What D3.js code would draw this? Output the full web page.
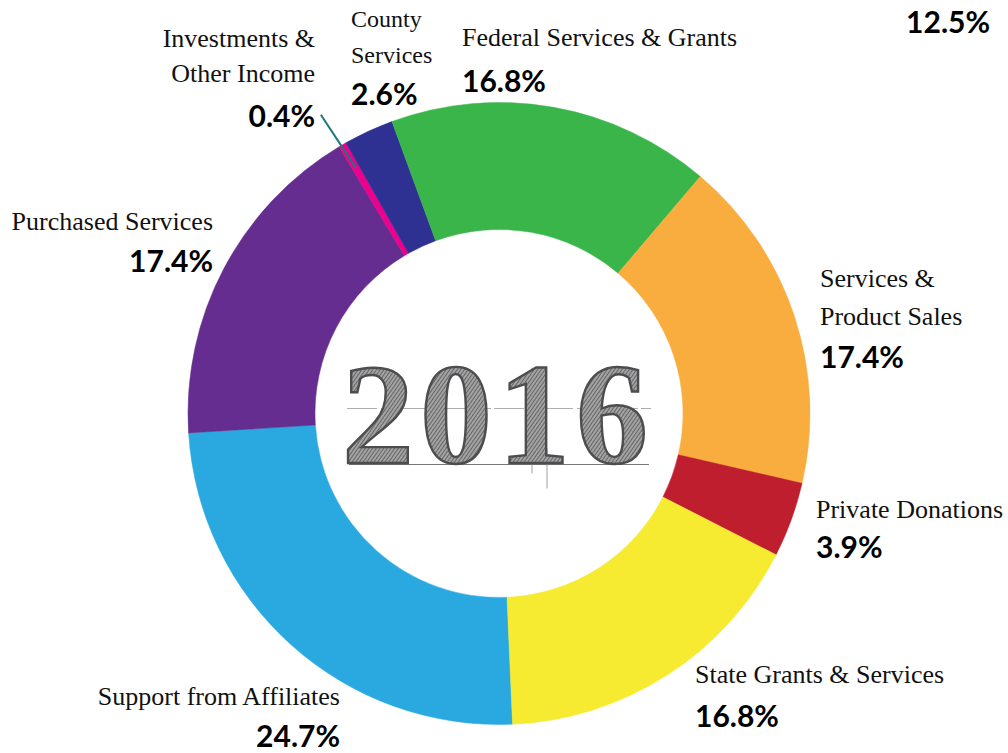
<!DOCTYPE html>
<html>
  <head>
    <meta charset="utf-8">
    <script src="https://d3js.org/d3.v7.min.js"></script>
    <title>2016 Revenue</title>
    <style>
      body { margin: 0; background: #fff; }
    </style>
  </head>
  <body>
    <div id="chart"></div>
  <script>

    // DATA
    const categories = ["Support from Affiliates", "Purchased Services", "Investments & Other Income",
                        "County Services", "Federal Services & Grants", "Services & Product Sales",
                        "Private Donations", "State Grants & Services"];
    const values = [24.7, 17.4, 0.4, 2.6, 16.8, 17.4, 3.9, 16.8];
    const sliceColors = ["#29a9e0", "#652d8f", "#ec008c", "#2e3192", "#39b54a", "#f9ad3f", "#be1e2d", "#f6eb31"];
    const nameLines = [
      ["Support from Affiliates"],
      ["Purchased Services"],
      ["Investments &", "Other Income"],
      ["County", "Services"],
      ["Federal Services & Grants"],
      ["Services &", "Product Sales"],
      ["Private Donations"],
      ["State Grants & Services"]
    ];
    const centerYear = "2016";
    const strayLabel = "12.5%";

    // LAYOUT
    const w = 1008, h = 753;
    const cx = 499, cy = 413.5;
    const outerR = 311, innerR = 184;
    const startDeg = 177.5;

    // label placement: x, anchor, baselines for name lines, baseline for percent
    const labelPos = [
      {x: 340, anchor: "end",   lines: [705], pct: 747, size: 26},
      {x: 213, anchor: "end",   lines: [230], pct: 272, size: 26},
      {x: 315, anchor: "end",   lines: [47, 82], pct: 127, size: 26},
      {x: 351, anchor: "start", lines: [27, 63], pct: 105, size: 24},
      {x: 462, anchor: "start", lines: [46], pct: 92, size: 26},
      {x: 820, anchor: "start", lines: [287, 325], pct: 368, size: 26},
      {x: 816, anchor: "start", lines: [518], pct: 558, size: 26},
      {x: 695, anchor: "start", lines: [683], pct: 727, size: 26}
    ];

    const svg = d3.select("#chart")
      .append("svg")
      .attr("width", w)
      .attr("height", h);

    const defs = svg.append("defs");
    const hatch = defs.append("pattern")
      .attr("id", "hatch")
      .attr("width", 3)
      .attr("height", 3)
      .attr("patternUnits", "userSpaceOnUse")
      .attr("patternTransform", "rotate(35)");
    hatch.append("rect").attr("width", 3).attr("height", 3).attr("fill", "#a4a4a4");
    hatch.append("line")
      .attr("x1", 0).attr("y1", 0).attr("x2", 0).attr("y2", 3)
      .attr("stroke", "#4f4f51").attr("stroke-width", 1.5);

    const pie = d3.pie()
      .sort(null)
      .value(d => d)
      .startAngle(startDeg * Math.PI / 180)
      .endAngle((startDeg + 360) * Math.PI / 180);

    const arc = d3.arc()
      .innerRadius(innerR)
      .outerRadius(outerR);

    const g = svg.append("g")
      .attr("transform", `translate(${cx},${cy})`);

    const arcs = pie(values);

    g.selectAll("path.slice")
      .data(arcs)
      .enter()
      .append("path")
      .attr("class", "slice")
      .attr("d", arc)
      .attr("fill", (d, i) => sliceColors[i])
      .attr("stroke", (d, i) => sliceColors[i])
      .attr("stroke-width", 0.5);

    // leader line for the tiny slice
    const tiny = arcs[2];
    const midA = (tiny.startAngle + tiny.endAngle) / 2;
    const rIn = outerR - 27, rOut = outerR + 37;
    g.append("line")
      .attr("x1", Math.sin(midA) * rIn)
      .attr("y1", -Math.cos(midA) * rIn)
      .attr("x2", Math.sin(midA) * rOut - 3)
      .attr("y2", -Math.cos(midA) * rOut + 2)
      .attr("stroke", "#17797c")
      .attr("stroke-width", 2);

    // centre year, engraved look
    const yearG = g.append("g");
    yearG.append("line")
      .attr("x1", -152).attr("x2", 152).attr("y1", -5).attr("y2", -5)
      .attr("stroke", "#999").attr("stroke-width", 0.8).attr("stroke-dasharray", "30 4 12 3");
    yearG.append("line")
      .attr("x1", -150).attr("x2", 150).attr("y1", 51).attr("y2", 51)
      .attr("stroke", "#777").attr("stroke-width", 1);
    yearG.append("line")
      .attr("x1", 33).attr("x2", 33).attr("y1", -46).attr("y2", 60)
      .attr("stroke", "#888").attr("stroke-width", 0.8);
    yearG.append("line")
      .attr("x1", 48).attr("x2", 48).attr("y1", 35).attr("y2", 75)
      .attr("stroke", "#888").attr("stroke-width", 0.8);
    yearG.append("text")
      .attr("x", -1)
      .attr("y", 49)
      .attr("text-anchor", "middle")
      .attr("font-family", "'Liberation Serif', 'DejaVu Serif', serif")
      .attr("font-weight", 700)
      .attr("font-size", 144)
      .attr("letter-spacing", 6)
      .attr("fill", "url(#hatch)")
      .attr("stroke", "#4d4d4f")
      .attr("stroke-width", 2.4)
      .text(centerYear);

    // labels
    const fmt = v => d3.format(".1f")(v) + "%";
    const labels = svg.append("g");
    categories.forEach(function(c, i) {
      const p = labelPos[i];
      nameLines[i].forEach(function(line, j) {
        labels.append("text")
          .attr("x", p.x)
          .attr("y", p.lines[j])
          .attr("text-anchor", p.anchor)
          .attr("font-family", "'Liberation Serif', serif")
          .attr("font-size", p.size)
          .attr("fill", "#111")
          .text(line);
      });
      labels.append("text")
        .attr("x", p.x)
        .attr("y", p.pct)
        .attr("text-anchor", p.anchor)
        .attr("font-family", "Lato, 'Open Sans', sans-serif")
        .attr("font-weight", 700)
        .attr("font-size", 30)
        .attr("fill", "#000")
        .text(fmt(values[i]));
    });

    labels.append("text")
      .attr("x", 990)
      .attr("y", 33)
      .attr("text-anchor", "end")
      .attr("font-family", "Lato, 'Open Sans', sans-serif")
      .attr("font-weight", 700)
      .attr("font-size", 30)
      .attr("fill", "#000")
      .text(strayLabel);

  </script>
  </body>
</html>
